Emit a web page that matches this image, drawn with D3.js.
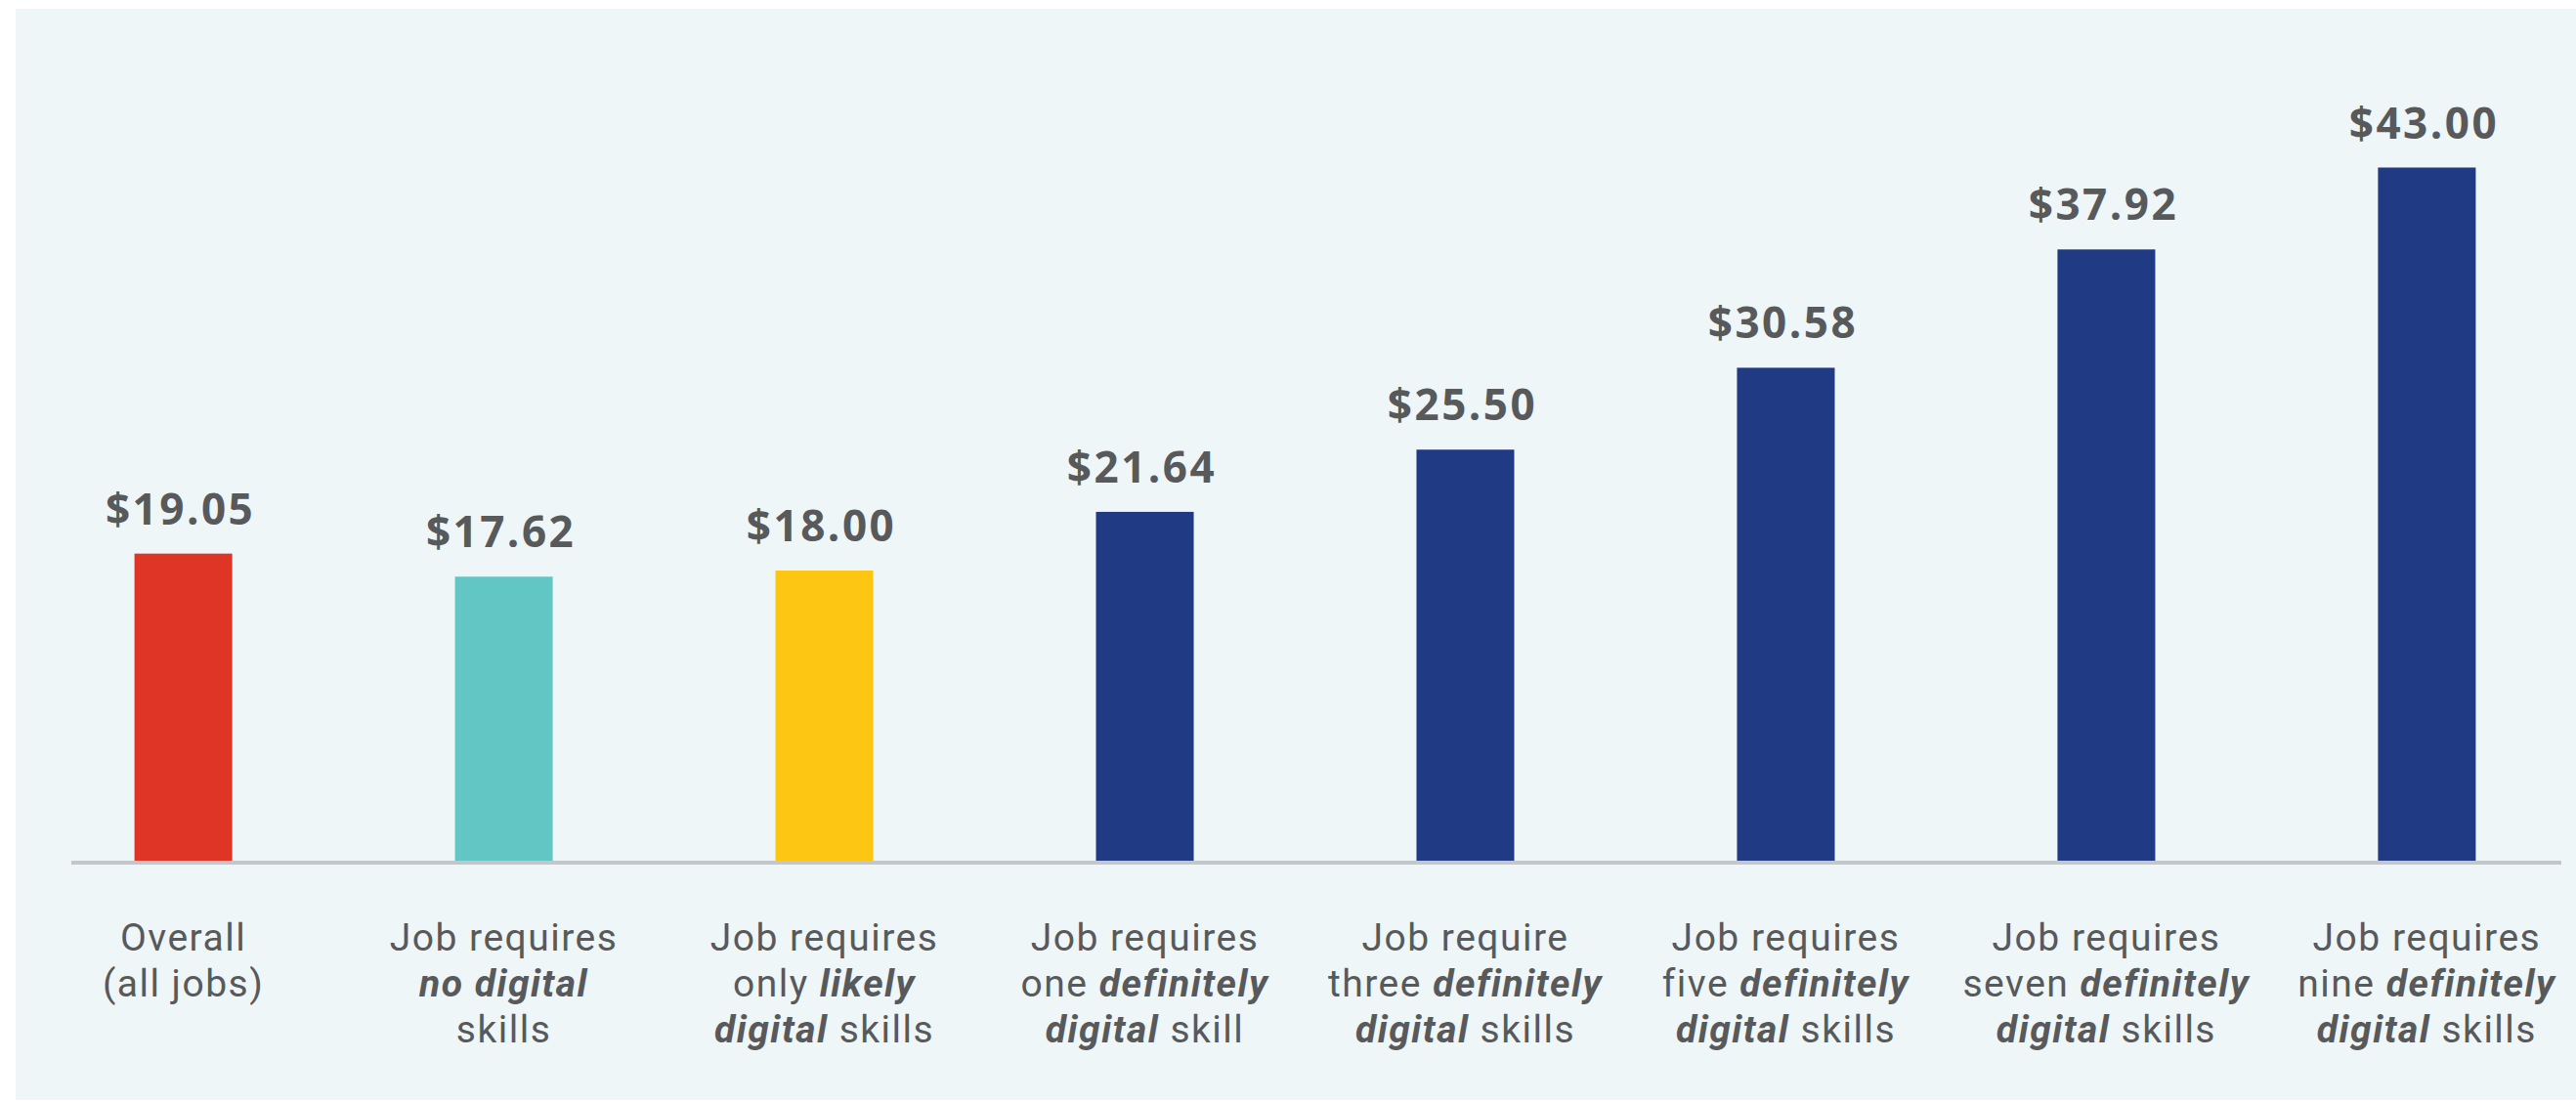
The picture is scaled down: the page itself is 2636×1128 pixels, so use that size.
<!DOCTYPE html>
<html>
<head>
<meta charset="utf-8">
<script src="https://cdn.jsdelivr.net/npm/d3@7"></script>
<style>
  html, body { margin: 0; padding: 0; background: #ffffff; }
  svg { display: block; }
</style>
</head>
<body>
<svg id="chart" width="2636" height="1128"></svg>
<script>
// ---- data ----
const categories = ["overall", "none", "likely", "one", "three", "five", "seven", "nine"];
const values = [19.05, 17.62, 18.00, 21.64, 25.50, 30.58, 37.92, 43.00];
const valueLabels = ["$19.05", "$17.62", "$18.00", "$21.64", "$25.50", "$30.58", "$37.92", "$43.00"];
const barColors = ["#de3526", "#62c6c4", "#fdc612", "#213a84", "#213a84", "#213a84", "#213a84", "#213a84"];
// each label: array of lines; each line: array of [text, emphasised]
const categoryLabels = [
  [[["Overall", false]], [["(all jobs)", false]]],
  [[["Job requires", false]], [["no digital", true]], [["skills", false]]],
  [[["Job requires", false]], [["only ", false], ["likely", true]], [["digital", true], [" skills", false]]],
  [[["Job requires", false]], [["one ", false], ["definitely", true]], [["digital", true], [" skill", false]]],
  [[["Job require", false]], [["three ", false], ["definitely", true]], [["digital", true], [" skills", false]]],
  [[["Job requires", false]], [["five ", false], ["definitely", true]], [["digital", true], [" skills", false]]],
  [[["Job requires", false]], [["seven ", false], ["definitely", true]], [["digital", true], [" skills", false]]],
  [[["Job requires", false]], [["nine ", false], ["definitely", true]], [["digital", true], [" skills", false]]]
];

// ---- layout ----
const W = 2636, H = 1128;
const baseY = 881;
const svg = d3.select("#chart");

svg.append("rect")
  .attr("x", 16).attr("y", 9)
  .attr("width", W - 16).attr("height", H - 11)
  .attr("fill", "#eef6f8");

const x = d3.scaleBand()
  .domain(categories)
  .range([72, 2599])
  .paddingInner(0.695)
  .paddingOuter(0.2);

const y = d3.scaleLinear()
  .domain([0, 45])
  .range([baseY, baseY - 45 * 16.5]);

// bars
svg.append("g").selectAll("rect")
  .data(categories)
  .join("rect")
  .attr("x", d => x(d))
  .attr("width", x.bandwidth())
  .attr("y", (d, i) => y(values[i]))
  .attr("height", (d, i) => y(0) - y(values[i]))
  .attr("fill", (d, i) => barColors[i]);

// baseline
svg.append("line")
  .attr("x1", 73).attr("x2", 2621)
  .attr("y1", baseY + 2).attr("y2", baseY + 2)
  .attr("stroke", "#c3c6ca")
  .attr("stroke-width", 4);

// value labels
svg.append("g").selectAll("text")
  .data(categories)
  .join("text")
  .attr("x", d => x(d) + x.bandwidth() / 2 - 3)
  .attr("y", (d, i) => y(values[i]) - 30)
  .attr("text-anchor", "middle")
  .attr("font-family", "'Open Sans', sans-serif")
  .attr("font-weight", 700)
  .attr("font-size", 44)
  .attr("letter-spacing", 2.5)
  .attr("fill", "#58595b")
  .text((d, i) => valueLabels[i]);

// category labels: one text element per category, one chunk per line
const lab = svg.append("g")
  .attr("font-family", "Roboto, sans-serif")
  .attr("font-size", 39)
  .attr("letter-spacing", 1.5)
  .attr("fill", "#58595b");

categories.forEach((c, i) => {
  const cx = x(c) + x.bandwidth() / 2;
  const t = lab.append("text")
    .attr("text-anchor", "middle")
    .attr("x", cx)
    .attr("y", 973);
  categoryLabels[i].forEach((line, li) => {
    line.forEach(([txt, em], k) => {
      const s = t.append("tspan").text(txt).style("white-space", "pre");
      if (k === 0) s.attr("x", cx).attr("y", 973 + li * 47);
      if (em) s.attr("font-weight", 700).attr("font-style", "italic");
    });
  });
});
</script>
</body>
</html>
